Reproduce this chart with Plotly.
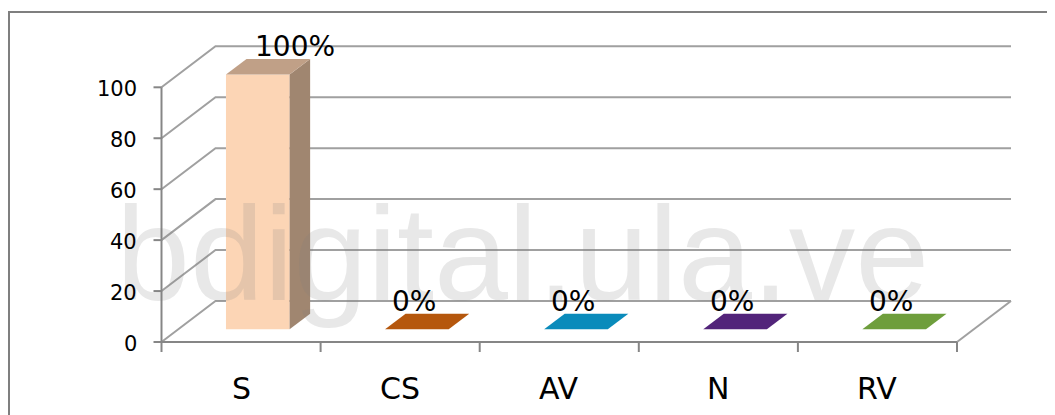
import plotly.graph_objects as go

# ---------------- data ----------------
categories = ["S", "CS", "AV", "N", "RV"]
values = [100, 0, 0, 0, 0]
value_labels = ["100%", "0%", "0%", "0%", "0%"]
y_ticks = [0, 20, 40, 60, 80, 100]
front_colors = ["#FCD5B5", "#B5570D", "#0A8BBB", "#52247A", "#6E9E3C"]
top_colors = ["#C0A087", "#B5570D", "#0A8BBB", "#52247A", "#6E9E3C"]
side_colors = ["#A08670", "#8A420A", "#076A8F", "#3E1B5C", "#547A2E"]
watermark = "bdigital.ula.ve"

# ---------------- geometry / style ----------------
W, H = 1055, 415
OFF = 8                 # page body margin of the html page (pixels)
CAT_PX = 159.1          # pixels per category
X0_PX = 241.05 - OFF    # pixel of first category centre (front plane)
Y0_PX = 342.0 - OFF     # pixel of value 0 (front plane)
PX_PER_UNIT = 2.547     # pixels per value unit
DX = 54 / CAT_PX        # depth offset in category units
DY = 41 / PX_PER_UNIT   # depth offset in value units
F0, F1 = 0.31, 0.69     # bar depth span (fraction of full depth)
HALF = 0.2              # half bar width (category units)

x_range = [-X0_PX / CAT_PX, (W - X0_PX) / CAT_PX]
y_range = [-(H - Y0_PX) / PX_PER_UNIT, Y0_PX / PX_PER_UNIT]

n = len(categories)
xL, xR = -0.5, n - 0.5
GRID = "#A0A0A0"
AXIS = "#868686"
FONT = "DejaVu Sans"

fig = go.Figure()

# gridlines: left wall diagonals + back wall horizontals
gx, gy = [], []
for v in y_ticks:
    gx += [xL, xL + DX, xR + DX, None]
    gy += [v, v + DY, v + DY, None]
# floor right edge
gx += [xR, xR + DX, None]
gy += [0, DY, None]
fig.add_trace(go.Scatter(x=gx, y=gy, mode="lines", line=dict(color=GRID, width=2),
                         hoverinfo="skip", showlegend=False))

# axes: vertical value axis, floor front edge, tick marks
ax, ay = [xL, xL, None, xL, xR, None], [0, max(y_ticks), None, 0, 0, None]
tick_len_x = 8 / CAT_PX
tick_len_y = 10 / PX_PER_UNIT
for v in y_ticks:
    ax += [xL - tick_len_x, xL, None]
    ay += [v, v, None]
for k in range(n + 1):
    ax += [xL + k, xL + k, None]
    ay += [0, -tick_len_y, None]
fig.add_trace(go.Scatter(x=ax, y=ay, mode="lines", line=dict(color=AXIS, width=2),
                         hoverinfo="skip", showlegend=False))

# bars (front, side, top faces)
for i, (c, v) in enumerate(zip(categories, values)):
    l0, r0 = i - HALF + F0 * DX, i + HALF + F0 * DX
    l1, r1 = i - HALF + F1 * DX, i + HALF + F1 * DX
    b0, b1 = F0 * DY, F1 * DY
    faces = []
    if v > 0:
        faces.append(([l0, r0, r0, l0, l0], [b0, b0, v + b0, v + b0, b0], front_colors[i]))
        faces.append(([r0, r1, r1, r0, r0], [b0, b1, v + b1, v + b0, b0], side_colors[i]))
    faces.append(([l0, r0, r1, l1, l0], [v + b0, v + b0, v + b1, v + b1, v + b0], top_colors[i]))
    for fx, fy, col in faces:
        fig.add_trace(go.Scatter(x=fx, y=fy, mode="lines", fill="toself", fillcolor=col,
                                 line=dict(width=0, color=col), hoverinfo="skip",
                                 showlegend=False, name=c))

annotations = []
# watermark
annotations.append(dict(text=watermark, xref="paper", yref="paper", x=106 / W, y=1 - 246 / H,
                        xanchor="left", yanchor="middle", showarrow=False,
                        font=dict(family="Liberation Sans, Arial", size=133,
                                  color="rgba(128,128,128,0.18)")))
# value axis tick labels
for v in y_ticks:
    annotations.append(dict(text=str(v), x=xL, y=v, xref="x", yref="y", xanchor="right",
                            yanchor="middle", xshift=-23, yshift=-2, showarrow=False,
                            font=dict(family=FONT, size=21, color="#000000")))
# category labels
for i, c in enumerate(categories):
    annotations.append(dict(text=c, x=i, y=0, xref="x", yref="y", xanchor="center",
                            yanchor="middle", yshift=-46, showarrow=False,
                            font=dict(family=FONT, size=30, color="#000000")))
# data labels
for i, (v, t) in enumerate(zip(values, value_labels)):
    annotations.append(dict(text=t, x=i + DX, y=v + DY, xref="x", yref="y", xanchor="center",
                            yanchor="middle", xshift=(0 if v > 0 else -40), showarrow=False,
                            font=dict(family=FONT, size=28, color="#000000")))

fig.update_layout(
    width=W, height=H,
    margin=dict(l=0, r=0, t=0, b=0),
    paper_bgcolor="white", plot_bgcolor="white",
    xaxis=dict(range=x_range, visible=False, fixedrange=True),
    yaxis=dict(range=y_range, visible=False, fixedrange=True),
    annotations=annotations,
    shapes=[dict(type="rect", xref="paper", yref="paper", x0=(9 - OFF) / W,
                 y0=1 - (12 - OFF) / H, x1=1.2, y1=-0.2,
                 line=dict(color="#7F7F7F", width=2), layer="above")],
    showlegend=False,
)

fig.write_html("out.html")
